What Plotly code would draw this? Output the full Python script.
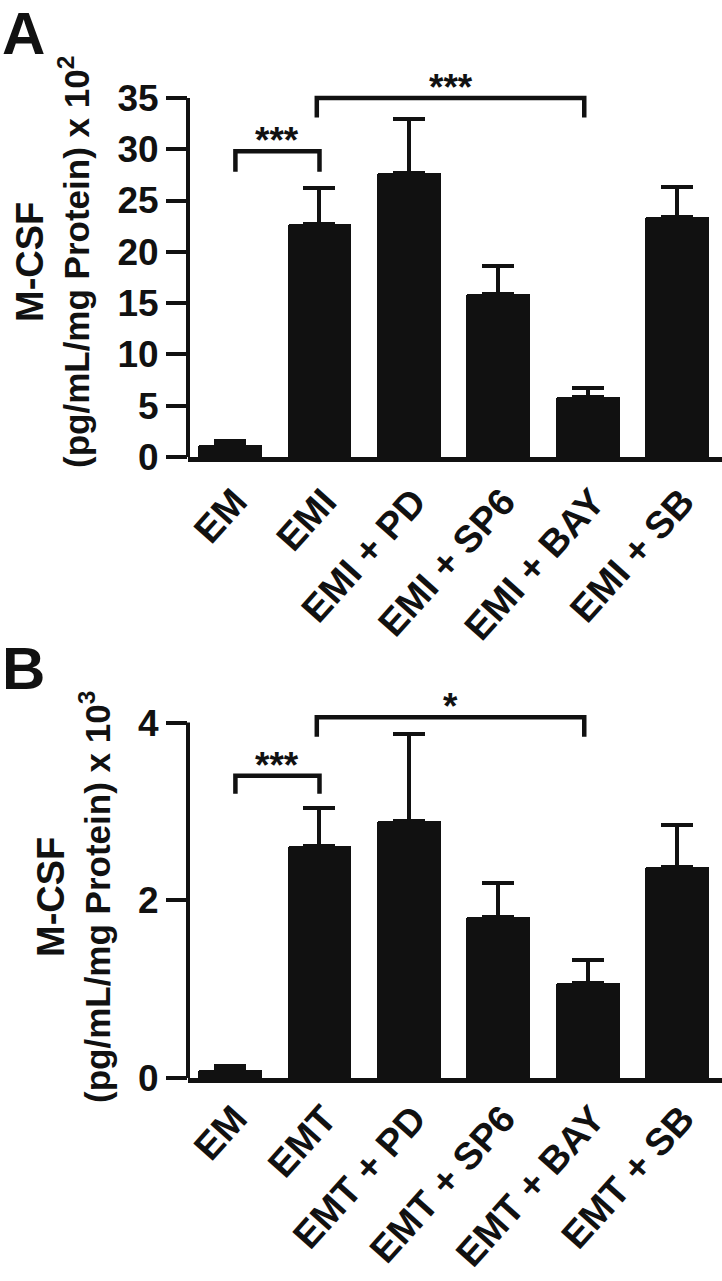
import plotly.graph_objects as go

# ---------------- data ----------------
cats_A = ["EM", "EMI", "EMI + PD", "EMI + SP6", "EMI + BAY", "EMI + SB"]
vals_A = [1.2, 22.7, 27.7, 15.9, 5.8, 23.4]
errtop_A = [1.6, 26.2, 32.9, 18.6, 6.7, 26.3]
ticks_A = [0, 5, 10, 15, 20, 25, 30, 35]
# brackets: (x_left, x_right, y_top, y_leg, label)
brackets_A = [(0.06, 1.0, 29.8, 27.8, "***"), (0.97, 3.96, 35.0, 33.1, "***")]

cats_B = ["EM", "EMT", "EMT + PD", "EMT + SP6", "EMT + BAY", "EMT + SB"]
vals_B = [0.09, 2.61, 2.89, 1.81, 1.07, 2.37]
errtop_B = [0.13, 3.04, 3.87, 2.19, 1.33, 2.85]
ticks_B = [0, 2, 4]
brackets_B = [(0.06, 1.0, 3.40, 3.20, "***"), (0.97, 3.96, 4.06, 3.84, "*")]

FONT = "Liberation Sans, Arial, sans-serif"
INK = "#111111"
W, H = 722, 1281

def px_x(v):   # page pixel -> paper fraction
    return v / W

def px_y(v):
    return 1 - v / H

fig = go.Figure()

def add_panel(cats, vals, errtop, xa, ya):
    fig.add_trace(go.Bar(
        x=cats, y=vals, xaxis=xa, yaxis=ya,
        width=0.715,
        marker=dict(color=INK, line=dict(width=0), cornerradius=2),
        error_y=dict(type="data", symmetric=False,
                     array=[e - v for e, v in zip(errtop, vals)],
                     arrayminus=[0] * len(vals),
                     color=INK, thickness=4, width=16),
        showlegend=False, hoverinfo="skip",
    ))

add_panel(cats_A, vals_A, errtop_A, "x", "y")
add_panel(cats_B, vals_B, errtop_B, "x2", "y2")

axis_x = dict(showline=True, linewidth=5, linecolor=INK, ticks="",
              tickangle=-48, showgrid=False, zeroline=False,
              ticklabelshift=5,
              tickfont=dict(family=FONT, size=38, color=INK, weight="bold"),
              range=[-0.47, 5.5], automargin=False)
axis_y = dict(showline=False, ticks="outside", ticklen=21, tickwidth=4,
              tickcolor=INK, showgrid=False, zeroline=False,
              tickfont=dict(family=FONT, size=37, color=INK, weight="bold"),
              automargin=False)

fig.update_layout(
    width=W, height=H,
    margin=dict(l=0, r=0, t=0, b=0),
    paper_bgcolor="white", plot_bgcolor="white",
    bargap=0,
    xaxis=dict(axis_x, domain=[px_x(188), 1.0], anchor="y", ticklabelstandoff=2),
    yaxis=dict(axis_y, domain=[px_y(457), px_y(62)], anchor="x",
               range=[0, 38.5], tickvals=ticks_A),
    xaxis2=dict(axis_x, domain=[px_x(188), 1.0], anchor="y2", ticklabelstandoff=-2),
    yaxis2=dict(axis_y, domain=[px_y(1078), px_y(687)], anchor="x2",
                range=[0, 4.4], tickvals=ticks_B),
)

shapes = []
annotations = []

def panel_decor(ticks, brackets, xref, yref, xdom):
    shapes.append(dict(type="line", xref=xdom, yref=yref, x0=0, x1=0,
                       y0=ticks[0], y1=ticks[-1],
                       line=dict(color=INK, width=4)))
    for x0, x1, yt, yl, lab in brackets:
        shapes.append(dict(type="path", xref=xref, yref=yref,
                           path=f"M {x0},{yl} L {x0},{yt} L {x1},{yt} L {x1},{yl}",
                           line=dict(color=INK, width=4.5)))
        annotations.append(dict(x=(x0 + x1) / 2, y=yt, xref=xref, yref=yref,
                                text=lab, showarrow=False, yanchor="bottom",
                                yshift=-12,
                                font=dict(family=FONT, size=37, color=INK,
                                          weight="bold")))

panel_decor(ticks_A, brackets_A, "x", "y", "x domain")
panel_decor(ticks_B, brackets_B, "x2", "y2", "x2 domain")

letter_font = dict(family=FONT, size=60, color=INK, weight="bold")
annotations.append(dict(x=px_x(0), y=1.0, xref="paper", yref="paper", text="A",
                        showarrow=False, xanchor="left", yanchor="top", yshift=2,
                        font=letter_font))
annotations.append(dict(x=px_x(0), y=px_y(633), xref="paper", yref="paper", text="B",
                        showarrow=False, xanchor="left", yanchor="top",
                        font=letter_font))

title_font = dict(family=FONT, size=35, color=INK, weight="bold")
annotations.append(dict(x=px_x(52), y=px_y(262), xref="paper", yref="paper",
                        text="<span style='font-size:38px'>M-CSF</span><br>"
                             "(pg/mL/mg Protein) x 10<sup>2</sup>",
                        showarrow=False, textangle=-90, xanchor="center",
                        yanchor="middle", font=title_font))
annotations.append(dict(x=px_x(73), y=px_y(897), xref="paper", yref="paper",
                        text="<span style='font-size:38px'>M-CSF</span><br>"
                             "(pg/mL/mg Protein) x 10<sup>3</sup>",
                        showarrow=False, textangle=-90, xanchor="center",
                        yanchor="middle", font=title_font))

fig.update_layout(shapes=shapes, annotations=annotations)

fig.write_html("out.html",
               config={"displayModeBar": False},
               post_script="document.body.style.margin='0';"
                           "document.body.style.overflow='hidden';")
